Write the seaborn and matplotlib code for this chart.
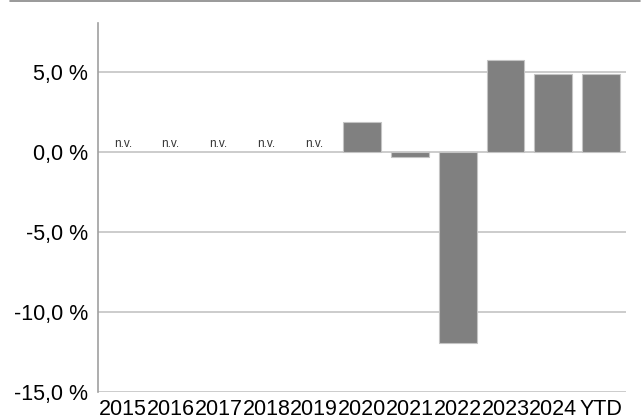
import numpy as np
import pandas as pd
import matplotlib
matplotlib.use("Agg")
import matplotlib.pyplot as plt
from matplotlib.lines import Line2D
from matplotlib.ticker import FuncFormatter
import seaborn as sns

sns.set_style("white")
plt.rcParams['font.family'] = ['Liberation Sans', 'DejaVu Sans']

years = ["2015", "2016", "2017", "2018", "2019", "2020", "2021", "2022", "2023", "2024", "YTD"]
returns = [np.nan, np.nan, np.nan, np.nan, np.nan, 1.85, -0.33, -11.95, 5.75, 4.88, 4.88]
missing_label = "n.v."

df = pd.DataFrame({"year": years, "ret": returns})

fig = plt.figure(figsize=(6.43, 4.2), dpi=100)
ax = fig.add_axes([0.1524, 0.0667, 0.8212, 0.8786])

sns.barplot(data=df, x="year", y="ret", color="#808080", width=0.79,
            edgecolor="#c4c4c4", linewidth=0.8, saturation=1, ax=ax, zorder=3)

# n.v. labels for years without data
for i, v in enumerate(returns):
    if np.isnan(v):
        ax.text(i, 0.3, missing_label, ha="center", va="baseline", fontsize=8.5, color="#333333")

ax.set_ylim(-15, 8.05)
ax.set_xlim(-0.52, 10.52)
ax.set_yticks([-15, -10, -5, 0, 5])
ax.yaxis.set_major_formatter(FuncFormatter(lambda v, p: f"{v:.1f} %".replace(".", ",")))
ax.grid(axis="y", color="#c8c8c8", linewidth=1.3, zorder=0)
ax.set_axisbelow(True)
ax.set_xlabel("")
ax.set_ylabel("")
ax.tick_params(axis="both", length=0, labelsize=15.5, colors="#000000")
ax.tick_params(axis="x", pad=5)
ax.tick_params(axis="y", pad=7)

for s in ["top", "right", "bottom"]:
    ax.spines[s].set_visible(False)
ax.spines["left"].set_color("#a0a0a0")
ax.spines["left"].set_linewidth(1.2)

fig.add_artist(Line2D([0.015, 0.995], [0.997, 0.997], color="#888888", linewidth=1.2))

fig.savefig("out.png", dpi=100, facecolor="white")
